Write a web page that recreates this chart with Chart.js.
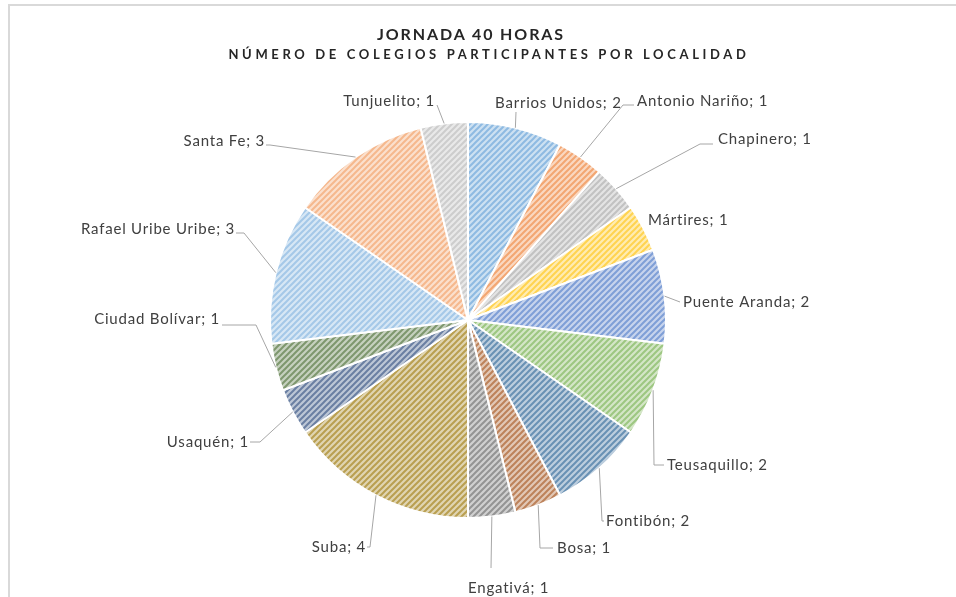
<!DOCTYPE html>
<html>
<head>
<meta charset="utf-8">
<script src="https://cdn.jsdelivr.net/npm/chart.js@4.4.1/dist/chart.umd.min.js"></script>
<style>
  html, body { margin: 0; padding: 0; background: #fff; }
  #marc { position: absolute; left: 8px; top: 4px; width: 960px; height: 600px; border-left: 2px solid #d9d9d9; border-top: 2px solid #d9d9d9; }
  #titol { position: absolute; left: 0; width: 942px; top: 24px; text-align: center; font-family: Lato, sans-serif; font-weight: bold; color: #262626; }
  #titol .t1 { font-size: 16px; letter-spacing: 1.9px; line-height: 20px; }
  #titol .t2 { font-size: 13px; letter-spacing: 3.65px; line-height: 21px; padding-left: 36px; }
  canvas { position: absolute; left: 0; top: 0; }
</style>
</head>
<body>
<div id="marc"></div>
<canvas id="chartLocalitats" width="956" height="597"></canvas>
<div id="titol">
  <div class="t1">JORNADA 40 HORAS</div>
  <div class="t2">NÚMERO DE COLEGIOS PARTICIPANTES POR LOCALIDAD</div>
</div>
<script>
// Dades
const localidades = ['Barrios Unidos', 'Antonio Nariño', 'Chapinero', 'Mártires', 'Puente Aranda',
  'Teusaquillo', 'Fontibón', 'Bosa', 'Engativá', 'Suba', 'Usaquén', 'Ciudad Bolívar',
  'Rafael Uribe Uribe', 'Santa Fe', 'Tunjuelito'];
const colegios = [2, 1, 1, 1, 2, 2, 2, 1, 1, 4, 1, 1, 3, 3, 1];
const colores = ['#5B9BD5', '#ED7D31', '#A5A5A5', '#FFC000', '#4472C4', '#70AD47', '#255E91',
  '#9E480E', '#636363', '#997300', '#264478', '#43682B', '#7CAFDD', '#F1975A', '#B7B7B7'];

// Posicio de les etiquetes: [x, y, alineacio, punt final de la linia guia, colze]
const etiquetes = [
  [495, 103, 'left', [516, 112], null],
  [637, 101, 'left', [623, 105], [634, 105]],
  [718, 139, 'left', [700, 144], [713, 144]],
  [648, 220, 'left', null, null],
  [683, 302, 'left', [680, 302], null],
  [667, 465, 'left', [654, 465], [664, 465]],
  [606, 521, 'left', [602, 521], [604, 521]],
  [557, 548, 'left', [540, 548], [553, 548]],
  [468, 588, 'left', [491, 568], null],
  [366, 547, 'right', [370, 547], [367, 547]],
  [249, 442, 'right', [260, 442], [250, 442]],
  [220, 319, 'right', [256, 325], [222, 325]],
  [235, 229, 'right', [244, 233], [236, 233]],
  [265, 141, 'right', [270, 145], [266, 145]],
  [435, 101, 'right', [437, 105], null]
];

// Patro ratllat en diagonal
function patroRatllat(color) {
  const c = document.createElement('canvas');
  c.width = 6; c.height = 6;
  const g = c.getContext('2d');
  g.fillStyle = '#fff';
  g.fillRect(0, 0, 6, 6);
  g.globalAlpha = 0.3;
  g.fillStyle = color;
  g.fillRect(0, 0, 6, 6);
  g.globalAlpha = 0.55;
  g.strokeStyle = color;
  g.lineWidth = 2;
  g.beginPath();
  g.moveTo(-1, 7); g.lineTo(7, -1);
  g.moveTo(-1, 1); g.lineTo(1, -1);
  g.moveTo(5, 7); g.lineTo(7, 5);
  g.stroke();
  return g.createPattern(c, 'repeat');
}

const pluginEtiquetes = {
  id: 'etiquetes',
  afterDatasetsDraw(chart) {
    const ctx = chart.ctx;
    const arcs = chart.getDatasetMeta(0).data;
    ctx.save();
    ctx.font = '15px Lato, sans-serif';
    ctx.letterSpacing = '0.8px';
    ctx.textBaseline = 'middle';
    arcs.forEach((arc, i) => {
      const [x, y, al, fi, colze] = etiquetes[i];
      const mig = (arc.startAngle + arc.endAngle) / 2;
      const r = arc.outerRadius;
      if (fi) {
        ctx.strokeStyle = '#a6a6a6';
        ctx.lineWidth = 1;
        ctx.beginPath();
        ctx.moveTo(arc.x + Math.cos(mig) * r, arc.y + Math.sin(mig) * r);
        ctx.lineTo(fi[0], fi[1]);
        if (colze) ctx.lineTo(colze[0], colze[1]);
        ctx.stroke();
      }
      ctx.fillStyle = '#404040';
      ctx.textAlign = al;
      ctx.fillText(localidades[i] + '; ' + colegios[i], x, y);
    });
    ctx.restore();
  }
};

const ctx = document.getElementById('chartLocalitats').getContext('2d');
new Chart(ctx, {
  type: 'pie',
  data: {
    labels: localidades,
    datasets: [{
      data: colegios,
      backgroundColor: colores.map(patroRatllat),
      borderColor: '#fff',
      borderWidth: 2
    }]
  },
  options: {
    responsive: false,
    animation: false,
    radius: 198,
    layout: { padding: { left: 100, right: 120, top: 100, bottom: 57 } },
    plugins: {
      legend: { display: false },
      tooltip: { enabled: false }
    }
  },
  plugins: [pluginEtiquetes]
});
</script>
</body>
</html>
